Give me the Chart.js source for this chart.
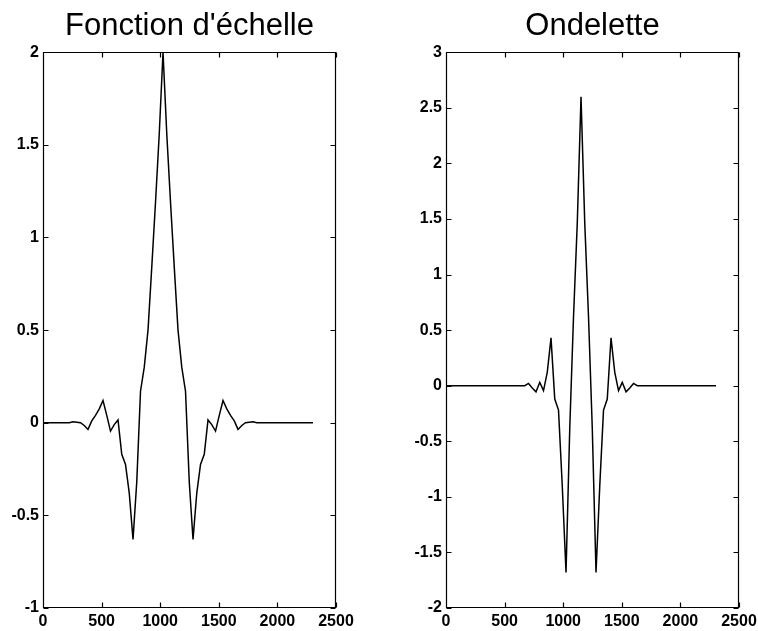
<!DOCTYPE html>
<html>
<head>
<meta charset="utf-8">
<script src="https://cdn.jsdelivr.net/npm/chart.js@4.4.1/dist/chart.umd.min.js"></script>
<style>
  html, body { margin: 0; padding: 0; background: #fff; }
  #wrap { position: relative; width: 758px; height: 631px; }
  .panel { position: absolute; top: 0; width: 379px; height: 631px; }
</style>
</head>
<body>
<div id="wrap">
  <div class="panel" style="left:0"><canvas id="phi"></canvas></div>
  <div class="panel" style="left:379px"><canvas id="psi"></canvas></div>
</div>
<script>
// Sample positions (abscissa) shared by both curves
const samplePositions = [
  0, 32, 64, 96, 128, 160, 192, 224, 256, 288, 320, 352, 384, 416, 448, 480,
  512, 544, 576, 608, 640, 672, 704, 736, 768, 800, 832, 864, 896, 928, 960, 992,
  1024, 1056, 1088, 1120, 1152, 1184, 1216, 1248, 1280, 1312, 1344, 1376, 1408, 1440, 1472, 1504,
  1536, 1568, 1600, 1632, 1664, 1696, 1728, 1760, 1792, 1824, 1856, 1888, 1920, 1952,
  1984, 2016, 2048, 2080, 2112, 2144, 2176, 2208, 2240, 2272, 2304
];

// Scaling function values
const scalingValues = [
  0, 0, 0, 0, 0, 0, 0, 0,
  0.005, 0.003, 0, -0.015, -0.036, 0.01, 0.04, 0.075,
  0.12, 0.04, -0.045, -0.01, 0.015, -0.17, -0.225, -0.38,
  -0.63, -0.32, 0.17, 0.30, 0.50, 0.84, 1.19, 1.56,
  2.00,
  1.56, 1.19, 0.84, 0.50, 0.30, 0.17, -0.32, -0.63,
  -0.38, -0.225, -0.17, 0.015, -0.01, -0.045, 0.04, 0.12,
  0.075, 0.04, 0.01, -0.036, -0.015, 0, 0.003, 0.005,
  0, 0, 0, 0, 0, 0, 0, 0, 0, 0, 0, 0, 0, 0, 0, 0
];

// Wavelet values
const waveletValues = [
  0, 0, 0, 0, 0, 0, 0, 0, 0, 0, 0, 0, 0, 0, 0, 0, 0, 0, 0, 0, 0, 0,
  0.02, -0.02, -0.055, 0.03, -0.045, 0.12, 0.43, -0.12,
  -0.22, -0.90, -1.68, -0.38, 0.62, 1.46,
  2.60,
  1.46, 0.62, -0.38, -1.68, -0.90, -0.22,
  -0.12, 0.43, 0.12, -0.045, 0.03, -0.055, -0.02, 0.02,
  0, 0, 0, 0, 0, 0, 0, 0, 0, 0, 0, 0, 0, 0, 0, 0, 0, 0, 0, 0, 0, 0
];

const xTicks = [0, 500, 1000, 1500, 2000, 2500];
const yTicksScaling = [-1, -0.5, 0, 0.5, 1, 1.5, 2];
const yTicksWavelet = [-2, -1.5, -1, -0.5, 0, 0.5, 1, 1.5, 2, 2.5, 3];

const tickFont = { family: '"Liberation Sans", Arial, sans-serif', size: 16, weight: 'bold' };
const titleFont = { family: '"Liberation Sans", Arial, sans-serif', size: 31, weight: 'normal' };

// Box around the plot area with inward tick marks on all four sides
const framePlugin = {
  id: 'frame',
  afterDatasetsDraw(chart) {
    const { ctx, chartArea: a, scales: { x, y } } = chart;
    const len = 5;
    const L = Math.round(a.left) + 0.5, R = Math.round(a.right) - 0.5;
    const T = Math.round(a.top) + 0.5, B = Math.round(a.bottom) - 0.5;
    ctx.save();
    ctx.strokeStyle = '#000';
    ctx.lineWidth = 1.2;
    ctx.beginPath();
    ctx.rect(L, T, R - L, B - T);
    x.ticks.forEach(t => {
      const px = Math.round(x.getPixelForValue(t.value)) + 0.5;
      ctx.moveTo(px, B); ctx.lineTo(px, B - len);
      ctx.moveTo(px, T); ctx.lineTo(px, T + len);
    });
    y.ticks.forEach(t => {
      const py = Math.round(y.getPixelForValue(t.value)) + 0.5;
      ctx.moveTo(L, py); ctx.lineTo(L + len, py);
      ctx.moveTo(R, py); ctx.lineTo(R - len, py);
    });
    ctx.stroke();
    ctx.restore();
  }
};

function makeChart(id, title, values, yTicks, yMin, yMax, yAxisWidth, rightPad) {
  const points = samplePositions.map((p, i) => ({ x: p, y: values[i] }));
  return new Chart(document.getElementById(id), {
    type: 'line',
    data: {
      datasets: [{
        data: points,
        borderColor: '#000',
        borderWidth: 1.5,
        pointRadius: 0,
        tension: 0,
        fill: false
      }]
    },
    options: {
      responsive: true,
      maintainAspectRatio: false,
      animation: false,
      events: [],
      layout: { padding: { left: 0, right: rightPad, top: 0, bottom: 0 } },
      plugins: {
        legend: { display: false },
        tooltip: { enabled: false },
        title: {
          display: true,
          text: title,
          color: '#000',
          font: titleFont,
          fullSize: false,
          padding: { top: 8, bottom: 7 }
        }
      },
      scales: {
        x: {
          type: 'linear',
          min: 0,
          max: 2500,
          grid: { display: false, drawTicks: false },
          border: { display: false },
          afterBuildTicks: s => { s.ticks = xTicks.map(v => ({ value: v })); },
          afterFit: s => { s.height = 23; s.paddingLeft = 0; s.paddingRight = 0; },
          ticks: { color: '#000', font: tickFont, padding: 4, maxRotation: 0, autoSkip: false,
                   callback: v => String(v) }
        },
        y: {
          type: 'linear',
          min: yMin,
          max: yMax,
          grid: { display: false, drawTicks: false },
          border: { display: false },
          afterBuildTicks: s => { s.ticks = yTicks.map(v => ({ value: v })); },
          afterFit: s => { s.width = yAxisWidth; s.paddingTop = 0; s.paddingBottom = 0; },
          ticks: { color: '#000', font: tickFont, padding: 4, autoSkip: false,
                   callback: v => String(v) }
        }
      }
    },
    plugins: [framePlugin]
  });
}

makeChart('phi', "Fonction d'échelle", scalingValues, yTicksScaling, -1, 2, 43, 43);
makeChart('psi', 'Ondelette', waveletValues, yTicksWavelet, -2, 3, 67, 19);
</script>
</body>
</html>
